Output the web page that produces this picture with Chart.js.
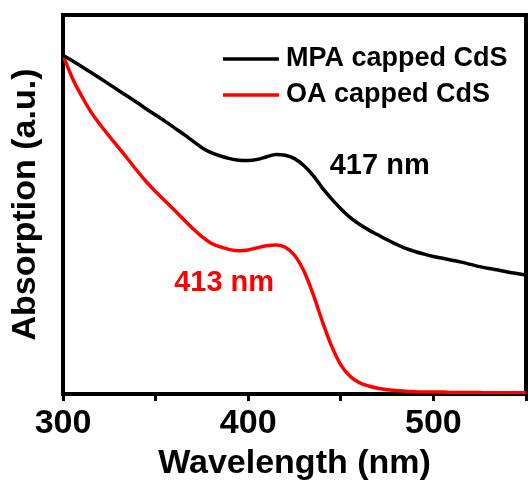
<!DOCTYPE html>
<html>
<head>
<meta charset="utf-8">
<script src="https://cdn.jsdelivr.net/npm/chart.js@4/dist/chart.umd.min.js"></script>
<style>
  body { margin: 0; background: #fff; }
  #wrap { width: 528px; height: 482px; }
</style>
</head>
<body>
<div id="wrap"><canvas id="absChart"></canvas></div>
<script>
// wavelength grid (nm)
const wavelengths = [300, 305, 310, 315, 320, 325, 330, 335, 340, 345,
    350, 355, 360, 365, 370, 375, 380, 385, 390, 395,
    400, 405, 410, 415, 420, 425, 430, 435, 440, 445,
    450, 455, 460, 465, 470, 475, 480, 485, 490, 495,
    500, 505, 510, 515, 520, 525, 530, 535, 540, 545, 550];

const mpaCdS = [0.894, 0.879, 0.864, 0.849, 0.833, 0.817, 0.801, 0.785, 0.769, 0.752,
    0.736, 0.720, 0.703, 0.686, 0.668, 0.650, 0.637, 0.628, 0.621, 0.617,
    0.616, 0.619, 0.626, 0.632, 0.630, 0.621, 0.603, 0.577, 0.544, 0.515,
    0.489, 0.466, 0.448, 0.433, 0.420, 0.407, 0.395, 0.384, 0.376, 0.369,
    0.363, 0.358, 0.353, 0.348, 0.342, 0.336, 0.331, 0.327, 0.322, 0.318, 0.314];

const oaCdS = [0.894, 0.834, 0.787, 0.745, 0.711, 0.680, 0.650, 0.620, 0.589, 0.560,
    0.534, 0.510, 0.486, 0.461, 0.437, 0.415, 0.398, 0.388, 0.381, 0.378,
    0.380, 0.386, 0.391, 0.393, 0.387, 0.366, 0.325, 0.264, 0.192, 0.127,
    0.077, 0.047, 0.030, 0.021, 0.015, 0.011, 0.009, 0.007, 0.006, 0.005,
    0.005, 0.005, 0.004, 0.004, 0.004, 0.004, 0.003, 0.003, 0.003, 0.003, 0.003];

const seriesNames = ["MPA capped CdS", "OA capped CdS"];
const xTickLabels = [300, 400, 500];

// peak labels: text, wavelength, absorbance
const peakTexts = ["417 nm", "413 nm"];
const peakX = [471, 387];
const peakY = [0.602, 0.294];

const FONT = "'Liberation Sans', Arial, sans-serif";
Chart.defaults.font.family = FONT;
Chart.defaults.font.weight = 'bold';
Chart.defaults.color = '#000';

const colors = ['#000000', '#ff0000'];

const toPoints = (ys) => wavelengths.map((w, i) => ({x: w, y: ys[i]}));

const mpa = {
    label: seriesNames[0],
    data: toPoints(mpaCdS),
    borderColor: colors[0],
    backgroundColor: colors[0],
    borderWidth: 3.5,
    pointRadius: 0,
    cubicInterpolationMode: 'monotone',
    fill: false
};

const oa = {
    label: seriesNames[1],
    data: toPoints(oaCdS),
    borderColor: colors[1],
    backgroundColor: colors[1],
    borderWidth: 3.5,
    pointRadius: 0,
    cubicInterpolationMode: 'monotone',
    fill: false
};

// frame, legend and peak labels
const extras = {
    id: 'extras',
    beforeDatasetsDraw(chart) {
        const {ctx, chartArea: a} = chart;
        ctx.save();
        ctx.strokeStyle = '#000';
        ctx.lineWidth = 4;
        ctx.strokeRect(a.left, a.top, a.right - a.left, a.bottom - a.top);
        ctx.restore();
    },
    afterDatasetsDraw(chart) {
        const {ctx, chartArea: a, scales} = chart;
        ctx.save();
        ctx.textBaseline = 'middle';
        ctx.font = "bold 27px " + FONT;
        chart.data.datasets.forEach((ds, i) => {
            const y = a.top + 44 + i * 36;
            ctx.strokeStyle = ds.borderColor;
            ctx.lineWidth = 3.5;
            ctx.beginPath();
            ctx.moveTo(a.right - 303, y);
            ctx.lineTo(a.right - 247, y);
            ctx.stroke();
            ctx.fillStyle = '#000';
            ctx.textAlign = 'left';
            ctx.fillText(ds.label, a.right - 240, y);
        });
        ctx.font = "bold 29px " + FONT;
        ctx.textAlign = 'center';
        peakTexts.forEach((t, i) => {
            ctx.fillStyle = colors[i];
            ctx.fillText(t, scales.x.getPixelForValue(peakX[i]), scales.y.getPixelForValue(peakY[i]));
        });
        ctx.restore();
    }
};

const config = {
    type: 'line',
    data: { datasets: [mpa, oa] },
    plugins: [extras],
    options: {
        responsive: true,
        maintainAspectRatio: false,
        animation: false,
        layout: { padding: { top: 15, right: 2, left: 0, bottom: 0 } },
        plugins: {
            legend: { display: false },
            tooltip: { enabled: false }
        },
        scales: {
            x: {
                type: 'linear',
                min: 300,
                max: 550,
                afterFit: (s) => { s.height = 88; },
                border: { display: false },
                grid: {
                    drawOnChartArea: false,
                    drawTicks: true,
                    tickLength: 7,
                    tickWidth: 3,
                    color: '#000'
                },
                ticks: {
                    stepSize: 50,
                    autoSkip: false,
                    maxRotation: 0,
                    padding: 2,
                    font: { size: 34, weight: 'bold' },
                    callback: (v) => xTickLabels.includes(v) ? String(v) : ''
                },
                title: {
                    display: true,
                    text: 'Wavelength (nm)',
                    font: { size: 34, weight: 'bold', lineHeight: 1 },
                    padding: { top: 0, bottom: 1 }
                }
            },
            y: {
                min: 0,
                max: 1,
                afterFit: (s) => { s.width = 63; },
                border: { display: false },
                grid: { display: false },
                ticks: { display: false },
                title: {
                    display: true,
                    text: 'Absorption (a.u.)',
                    font: { size: 34, weight: 'bold', lineHeight: 1 },
                    padding: { top: 9, bottom: 0 }
                }
            }
        }
    }
};

const absChart = new Chart(document.getElementById('absChart'), config);
</script>
</body>
</html>
